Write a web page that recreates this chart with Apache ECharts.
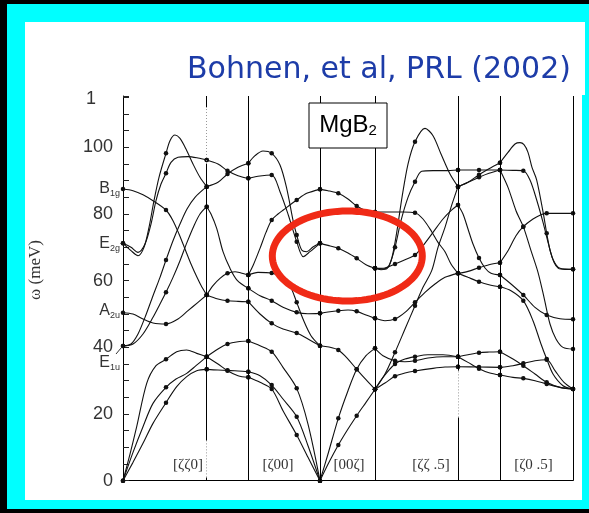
<!DOCTYPE html>
<html><head><meta charset="utf-8">
<script src="https://cdn.jsdelivr.net/npm/echarts@6/dist/echarts.min.js"></script>
<style>html,body{margin:0;padding:0;background:#000;}#c{width:589px;height:513px;}</style>
</head><body><div id="c"></div>
<script>
// High-symmetry points along the path (q, arbitrary path units): Γ K M Γ A H L A
const symPoints = [0, 83.7, 125.3, 197, 252, 335, 377, 450];
// parts of the K and H lines that are drawn dotted: [q, ω from, ω to]
const dottedParts = [[83.7, 95, 112], [83.7, 1, 12], [335, 19, 33]];
// q positions where calculated points (dots) are drawn
const dotQ = [0, 43, 83.7, 104.5, 125.3, 148.7, 173.7, 197, 215.3, 233.7, 252, 272, 292, 335, 356, 377, 400.3, 423.7, 450];
// path segment labels and their positions (q, ω)
const segLabels = ['[ζζ0]', '[ζ00]', '[00ζ]', '[ζζ .5]', '[ζ0 .5]'];
const segLabelQ = [65, 155, 226, 308, 410.5];
const segLabelW = 4.7;
// Γ-point mode labels
const gammaMode = ['B', 'E', 'A', 'E'];
const gammaSub = ['1g', '2g', '2u', '1u'];
const gammaFreq = [87.5, 71.2, 51.0, 35.5];
// y-axis tick values
const yTicks = [0, 20, 40, 60, 80, 100];

// Phonon branches (q, ω in meV), one array per path segment
const GK = [
  [[0,71.2],[8,69],[15,67.5],[21,70],[26,76],[31,84],[36,91],[43,98.2],[47,102],[52,103.7],[57,102.7],[63,99.5],[70,95],[77,91],[83.7,88.2]],
  [[0,71.2],[8,70],[15,68.5],[22,71],[28,77],[33,84],[38,89],[43,92.2],[48,95.5],[55,97],[65,97.2],[75,96.8],[83.7,96.2]],
  [[0,87.5],[10,87],[20,85.8],[30,84],[43,81.2],[50,78],[56,74],[62,69.5],[68,65],[74,61],[79,58],[83.7,55.7]],
  [[0,40.4],[8,41],[15,44],[22,49],[30,55.5],[37,61],[43,66.2],[50,72],[57,77],[64,81.5],[72,85],[83.7,88.2]],
  [[0,40.4],[10,41],[20,44],[30,49],[37,53],[43,56.5],[50,61],[57,66],[64,71.5],[71,76.5],[77,80],[83.7,82.2]],
  [[0,50.4],[10,50],[20,48.5],[30,47.3],[43,47],[55,48.5],[65,51],[75,53.5],[83.7,55.7]],
  [[0,0],[7,8],[13.7,16.2],[23.7,29.2],[33,34.5],[43,36.4],[53.7,38.7],[63.7,39.2],[73.7,38.2],[83.7,37.2]],
  [[0,0],[10,8.5],[20,16.2],[30,23.2],[43,28.0],[53,30.5],[63.7,32.2],[73,34.5],[83.7,37.2]],
  [[0,0],[10,5.5],[20,11.2],[30,17.2],[43,23.4],[53.7,28.2],[63.7,31.2],[73.7,33],[83.7,33.4]]
];
const KM = [
  [[83.7,96.2],[95,95],[104.5,93],[115,91.5],[125.3,90.7]],
  [[83.7,88.2],[95,89.5],[104.5,92],[115,94],[125.3,95.2]],
  [[83.7,82.2],[88,80],[93.7,75.7],[100,68.7],[107,63.7],[114,60.2],[125.3,57.7]],
  [[83.7,55.7],[90,58.5],[97,60.7],[104.5,62.2],[112,62.7],[118,62.3],[125.3,61.7]],
  [[83.7,55.7],[95,54.5],[104.5,54],[115,53.8],[125.3,53.7]],
  [[83.7,37.2],[95,39.5],[104.5,41],[115,41.7],[125.3,41.9]],
  [[83.7,37.2],[95,35],[104.5,33],[115,31.5],[125.3,31.0]],
  [[83.7,33.4],[95,33.2],[104.5,33.1],[115,32.9],[125.3,32.7]]
];
const MG = [
  [[125.3,95.2],[132,97.5],[140,98.9],[148.7,98.2],[157,94.7],[163.7,87.7],[170.3,77.7],[173.7,73.7],[178.7,69.2],[183.7,68.7],[190.3,70.2],[197,71.2]],
  [[125.3,90.7],[137,91.4],[148.7,91.7],[157,86.7],[165.3,79.7],[173.7,71.7],[180.3,67.2],[187,68.7],[197,71.2]],
  [[125.3,61.7],[130.3,64.7],[137,69.7],[143,74.5],[148.7,78.2],[155,80],[160.3,81.2],[173.7,84.2],[183.7,86.2],[197,87.4]],
  [[125.3,57.7],[137,55.5],[148.7,54],[160,52],[173.7,50.5],[185,50.1],[197,50.2]],
  [[125.3,53.7],[137,50],[148.7,47.2],[160,45.5],[173.7,44.3],[185,42.5],[197,40.5]],
  [[125.3,61.7],[135,62.5],[148.7,62.3],[160,60.5],[167,58.5],[173.7,53.5],[180,48.5],[188,43.5],[197,40.5]],
  [[125.3,41.9],[137,40.5],[148.7,38.7],[160,34],[173.7,27.7],[185,17],[197,0]],
  [[125.3,32.7],[137,31.5],[148.7,28.7],[160,24.5],[173.7,19.2],[185,10.5],[197,0]],
  [[125.3,31.0],[137,29.5],[148.7,27.5],[160,21],[173.7,13.7],[185,7],[197,0]]
];
const GA = [
  [[197,87.4],[205,87],[215.3,86.2],[225,84.5],[233.7,82.4],[243,81],[252,80.6]],
  [[197,71.2],[205,70.6],[215.3,69.7],[225,68.3],[233.7,66.7],[243,64.8],[252,63.7]],
  [[197,50.2],[205,50.6],[215.3,51],[225,51.2],[233.7,50.8],[243,49.7],[252,48.7]],
  [[197,40.5],[206,40.1],[215.3,39.2],[225,36.5],[233.7,33.4],[243,30.3],[252,27.4]],
  [[197,0],[205,8],[215.3,18.7],[225,27],[233.7,33.4],[243,37.5],[252,39.7]],
  [[197,0],[206,5.5],[215.3,10.7],[225,15.5],[233.7,19.5],[243,23.5],[252,27.4]]
];
const AH = [
  [[252,63.7],[258,63.3],[264,63.6],[269,67],[274,75],[279,85],[285,95],[292,101.7],[302,105.7],[310,103.5],[318,98],[327,92],[335,88.2]],
  [[252,63.7],[260,63.5],[266,64.5],[272,70],[278,78],[285,85],[292,89.7],[298.7,92.8],[310,93],[322,93],[335,93.2]],
  [[252,80.6],[265,80.6],[280,80.6],[292,80.4],[300,78.5],[308.7,74.7],[315,71.5],[322,68.7],[328,65],[335,62.2]],
  [[252,63.7],[262,63.8],[272,65],[282,66.3],[292,67.7],[300,70.5],[310,74.5],[320,78.5],[328,81],[335,82.7]],
  [[252,27.4],[262,32],[272,38.5],[282,45.5],[292,52.5],[300,58],[308.7,63],[315,70],[322,76],[328,82],[335,88.2]],
  [[252,48.7],[262,48],[272,48.5],[282,50.5],[292,53.5],[302,56.5],[312,59],[322,61],[335,62.2]],
  [[252,39.7],[260,37.5],[272,36],[282,35.7],[292,36],[305,36.8],[320,37.2],[335,37.2]],
  [[252,27.4],[260,31],[272,35],[282,36.5],[292,37.2],[305,37.8],[320,37.8],[335,37.2]],
  [[252,27.4],[262,29.3],[272,31.3],[282,32.3],[292,32.9],[310,33.7],[322,34.1],[335,34.2]]
];
const HL = [
  [[335,93.2],[356,93.2],[377,93.2]],
  [[335,88.2],[345,89.5],[356,91.8],[366,93.6],[377,95.4]],
  [[335,88.2],[345,89.5],[356,91],[366,92.2],[377,93.2]],
  [[335,82.7],[340,80],[345,75.5],[350,71],[356,66.8],[362,63.8],[368,62.2],[377,61.7]],
  [[335,62.2],[345,62.8],[356,63.9],[366,64.8],[377,65.4]],
  [[335,62.2],[345,61],[356,59.7],[366,58.8],[377,58.2]],
  [[335,37.2],[345,37.8],[356,38.4],[366,38.6],[377,38.7]],
  [[335,37.2],[345,35.5],[356,33.6],[366,32.4],[377,31.7]],
  [[335,34.2],[356,34.1],[377,34.0]]
];
const LA = [
  [[377,95.4],[385,98.5],[392,101],[397,101.4],[401,100.8],[405,98.5],[409,94],[413.7,90.2],[420.3,80.2],[423.7,74.2],[427,69.2],[431,65.5],[435.3,63.7],[442,63.4],[450,63.4]],
  [[377,93.2],[390,93.1],[400.3,93],[407,90.2],[413.7,84.2],[420.3,77.2],[425.3,71.2],[430.3,66.2],[437,63.7],[450,63.4]],
  [[377,93.2],[385,88],[393,81],[400.3,76.2],[408,69],[415,62.5],[421,55],[427,47],[433,42.5],[440,40],[450,39.5]],
  [[377,65.4],[385,69],[393,73.5],[400.3,76.2],[410,78.5],[418,79.8],[423.7,80.2],[435,80.2],[450,80.2]],
  [[377,61.7],[388,59],[400.3,55.7],[412,52],[423.7,49.7],[437,48.6],[450,48.4]],
  [[377,58.2],[388,57],[400.3,54],[410,48],[418,41],[423.7,36.5],[430,32],[440,28.5],[450,27.5]],
  [[377,38.7],[390,36.5],[400.3,34.5],[412,32],[423.7,29.5],[437,28],[450,27.5]],
  [[377,34.0],[390,34.5],[400.3,35.2],[412,36],[423.7,36.3],[432,33],[441,29.5],[450,27.5]],
  [[377,31.7],[390,31],[400.3,30.7],[412,30],[423.7,29],[437,28],[450,27.5]]
];

const chart = echarts.init(document.getElementById('c'));
const isDot = q => dotQ.some(d => Math.abs(d - q) < 0.3);
const series = [];
[GK, KM, MG, GA, AH, HL, LA].forEach(seg => seg.forEach(curve => {
  series.push({
    type: 'line', data: curve, smooth: 0.3, showSymbol: true, symbol: 'circle',
    symbolSize: v => isDot(v[0]) ? 4.5 : 0,
    lineStyle: { color: '#111', width: 1.1 }, itemStyle: { color: '#111' },
    silent: true, animation: false, z: 3
  });
}));
// symmetry lines: solid pieces, leaving the dotted parts out
const solidPieces = [];
symPoints.slice(1).forEach(q => {
  const cuts = dottedParts.filter(d => d[0] === q).sort((a, b) => a[1] - b[1]);
  let from = 0;
  cuts.forEach(c => { solidPieces.push([{ coord: [q, from] }, { coord: [q, c[1]] }]); from = c[2]; });
  solidPieces.push([{ coord: [q, from] }, { coord: [q, 115.4] }]);
});
series.push({
  type: 'line', data: [], silent: true, animation: false,
  markLine: {
    silent: true, symbol: ['none', 'none'], label: { show: false }, animation: false,
    lineStyle: { color: '#000', width: 1, type: 'solid' },
    data: solidPieces
  }
});
series.push({
  type: 'line', data: [], silent: true, animation: false,
  markLine: {
    silent: true, symbol: ['none', 'none'], label: { show: false }, animation: false,
    lineStyle: { color: '#999', width: 1, type: [1, 2] },
    data: dottedParts.map(d => [{ coord: [d[0], d[1]] }, { coord: [d[0], d[2]] }])
  }
});

chart.setOption({
  backgroundColor: '#000',
  animation: false,
  grid: { left: 123, top: 96, right: 16, bottom: 32.3 },
  xAxis: {
    type: 'value', min: 0, max: 450,
    axisLine: { show: true, lineStyle: { color: '#000', width: 1 } },
    axisTick: { show: false }, axisLabel: { show: false }, splitLine: { show: false }
  },
  yAxis: {
    type: 'value', min: 0, max: 115.4, interval: 20,
    axisLine: { show: true, lineStyle: { color: '#000', width: 1 } },
    axisTick: { show: true, inside: true, length: 6, lineStyle: { color: '#222' } },
    minorTick: { show: true, splitNumber: 4, length: 6, lineStyle: { color: '#222' } },
    splitLine: { show: false },
    axisLabel: {
      color: '#333', fontSize: 18, fontFamily: 'Liberation Sans', margin: 10,
      formatter: v => yTicks.includes(v) ? String(v) : ''
    }
  },
  series: series
});

// annotations placed through the chart's own scales
const px = (q, w) => chart.convertToPixel({ gridIndex: 0 }, [q, w]);
const g = [];
// frame
g.push({ type: 'rect', shape: { x: 7, y: 4, width: 582, height: 505 }, style: { fill: '#00ffff' }, z: -10, silent: true });
g.push({ type: 'rect', shape: { x: 25, y: 22, width: 557, height: 478 }, style: { fill: '#ffffff' }, z: -9, silent: true });
g.push({ type: 'rect', shape: { x: 580, y: 22, width: 5, height: 73 }, style: { fill: '#ffffff' }, z: -9, silent: true });
// segment labels
segLabels.forEach((t, i) => {
  const p = px(segLabelQ[i], segLabelW);
  g.push({ type: 'text', x: p[0], y: p[1], z: 20, style: { text: t, fill: '#333', font: '15px "Liberation Serif"', textAlign: 'center', textVerticalAlign: 'middle' } });
});
// Γ mode labels
gammaMode.forEach((t, i) => {
  const p = px(0, gammaFreq[i]);
  g.push({ type: 'text', x: p[0] - 13, y: p[1], z: 20, style: { text: t, fill: '#333', font: '16px "Liberation Sans"', textAlign: 'right', textVerticalAlign: 'middle' } });
  g.push({ type: 'text', x: p[0] - 13, y: p[1] + 5, z: 20, style: { text: gammaSub[i], fill: '#333', font: '9px "Liberation Sans"', textAlign: 'left', textVerticalAlign: 'middle' } });
});
// small arrow from E1u to the 40 meV point
(function () {
  const a = px(0, 40.4);
  g.push({ type: 'line', shape: { x1: a[0] - 7, y1: a[1] + 8, x2: a[0] - 2, y2: a[1] + 2 }, style: { stroke: '#333', lineWidth: 1 }, z: 20 });
})();
// stray "1" above the axis
g.push({ type: 'text', x: 91, y: 99, z: 20, style: { text: '1', fill: '#333', font: '18px "Liberation Sans"', textAlign: 'center', textVerticalAlign: 'middle' } });
// axis name
g.push({ type: 'text', x: 36, y: 270, rotation: Math.PI / 2, z: 20, style: { text: 'ω (meV)', fill: '#333', font: '17px "Liberation Serif"', textAlign: 'center', textVerticalAlign: 'middle' } });
// MgB2 box
g.push({ type: 'rect', shape: { x: 309, y: 103, width: 78, height: 45 }, style: { fill: '#fff', stroke: '#000', lineWidth: 1 }, z: 30 });
g.push({ type: 'text', x: 348, y: 125, z: 31, style: {
  text: '{m|MgB}{s|2}', textAlign: 'center', textVerticalAlign: 'middle',
  rich: { m: { font: '24px "Liberation Sans"', fill: '#000' }, s: { font: '15px "Liberation Sans"', fill: '#000', padding: [12, 0, 0, 0] } }
} });
// title
g.push({ type: 'text', x: 379, y: 70, z: 31, style: { text: 'Bohnen, et al, PRL (2002)', fill: '#1d3ca8', font: '30px "DejaVu Sans"', textAlign: 'center', textVerticalAlign: 'middle' } });
// red ellipse
(function () {
  const cx = 347.3, cy = 256, rx = 75, ry = 45, pts = [];
  for (let i = 0; i < 96; i++) { const t = i / 96 * Math.PI * 2; pts.push([cx + rx * Math.cos(t), cy + ry * Math.sin(t)]); }
  g.push({ type: 'polygon', shape: { points: pts }, style: { fill: 'none', stroke: '#f02a16', lineWidth: 7 }, z: 40 });
})();
chart.setOption({ graphic: g });
</script></body></html>
